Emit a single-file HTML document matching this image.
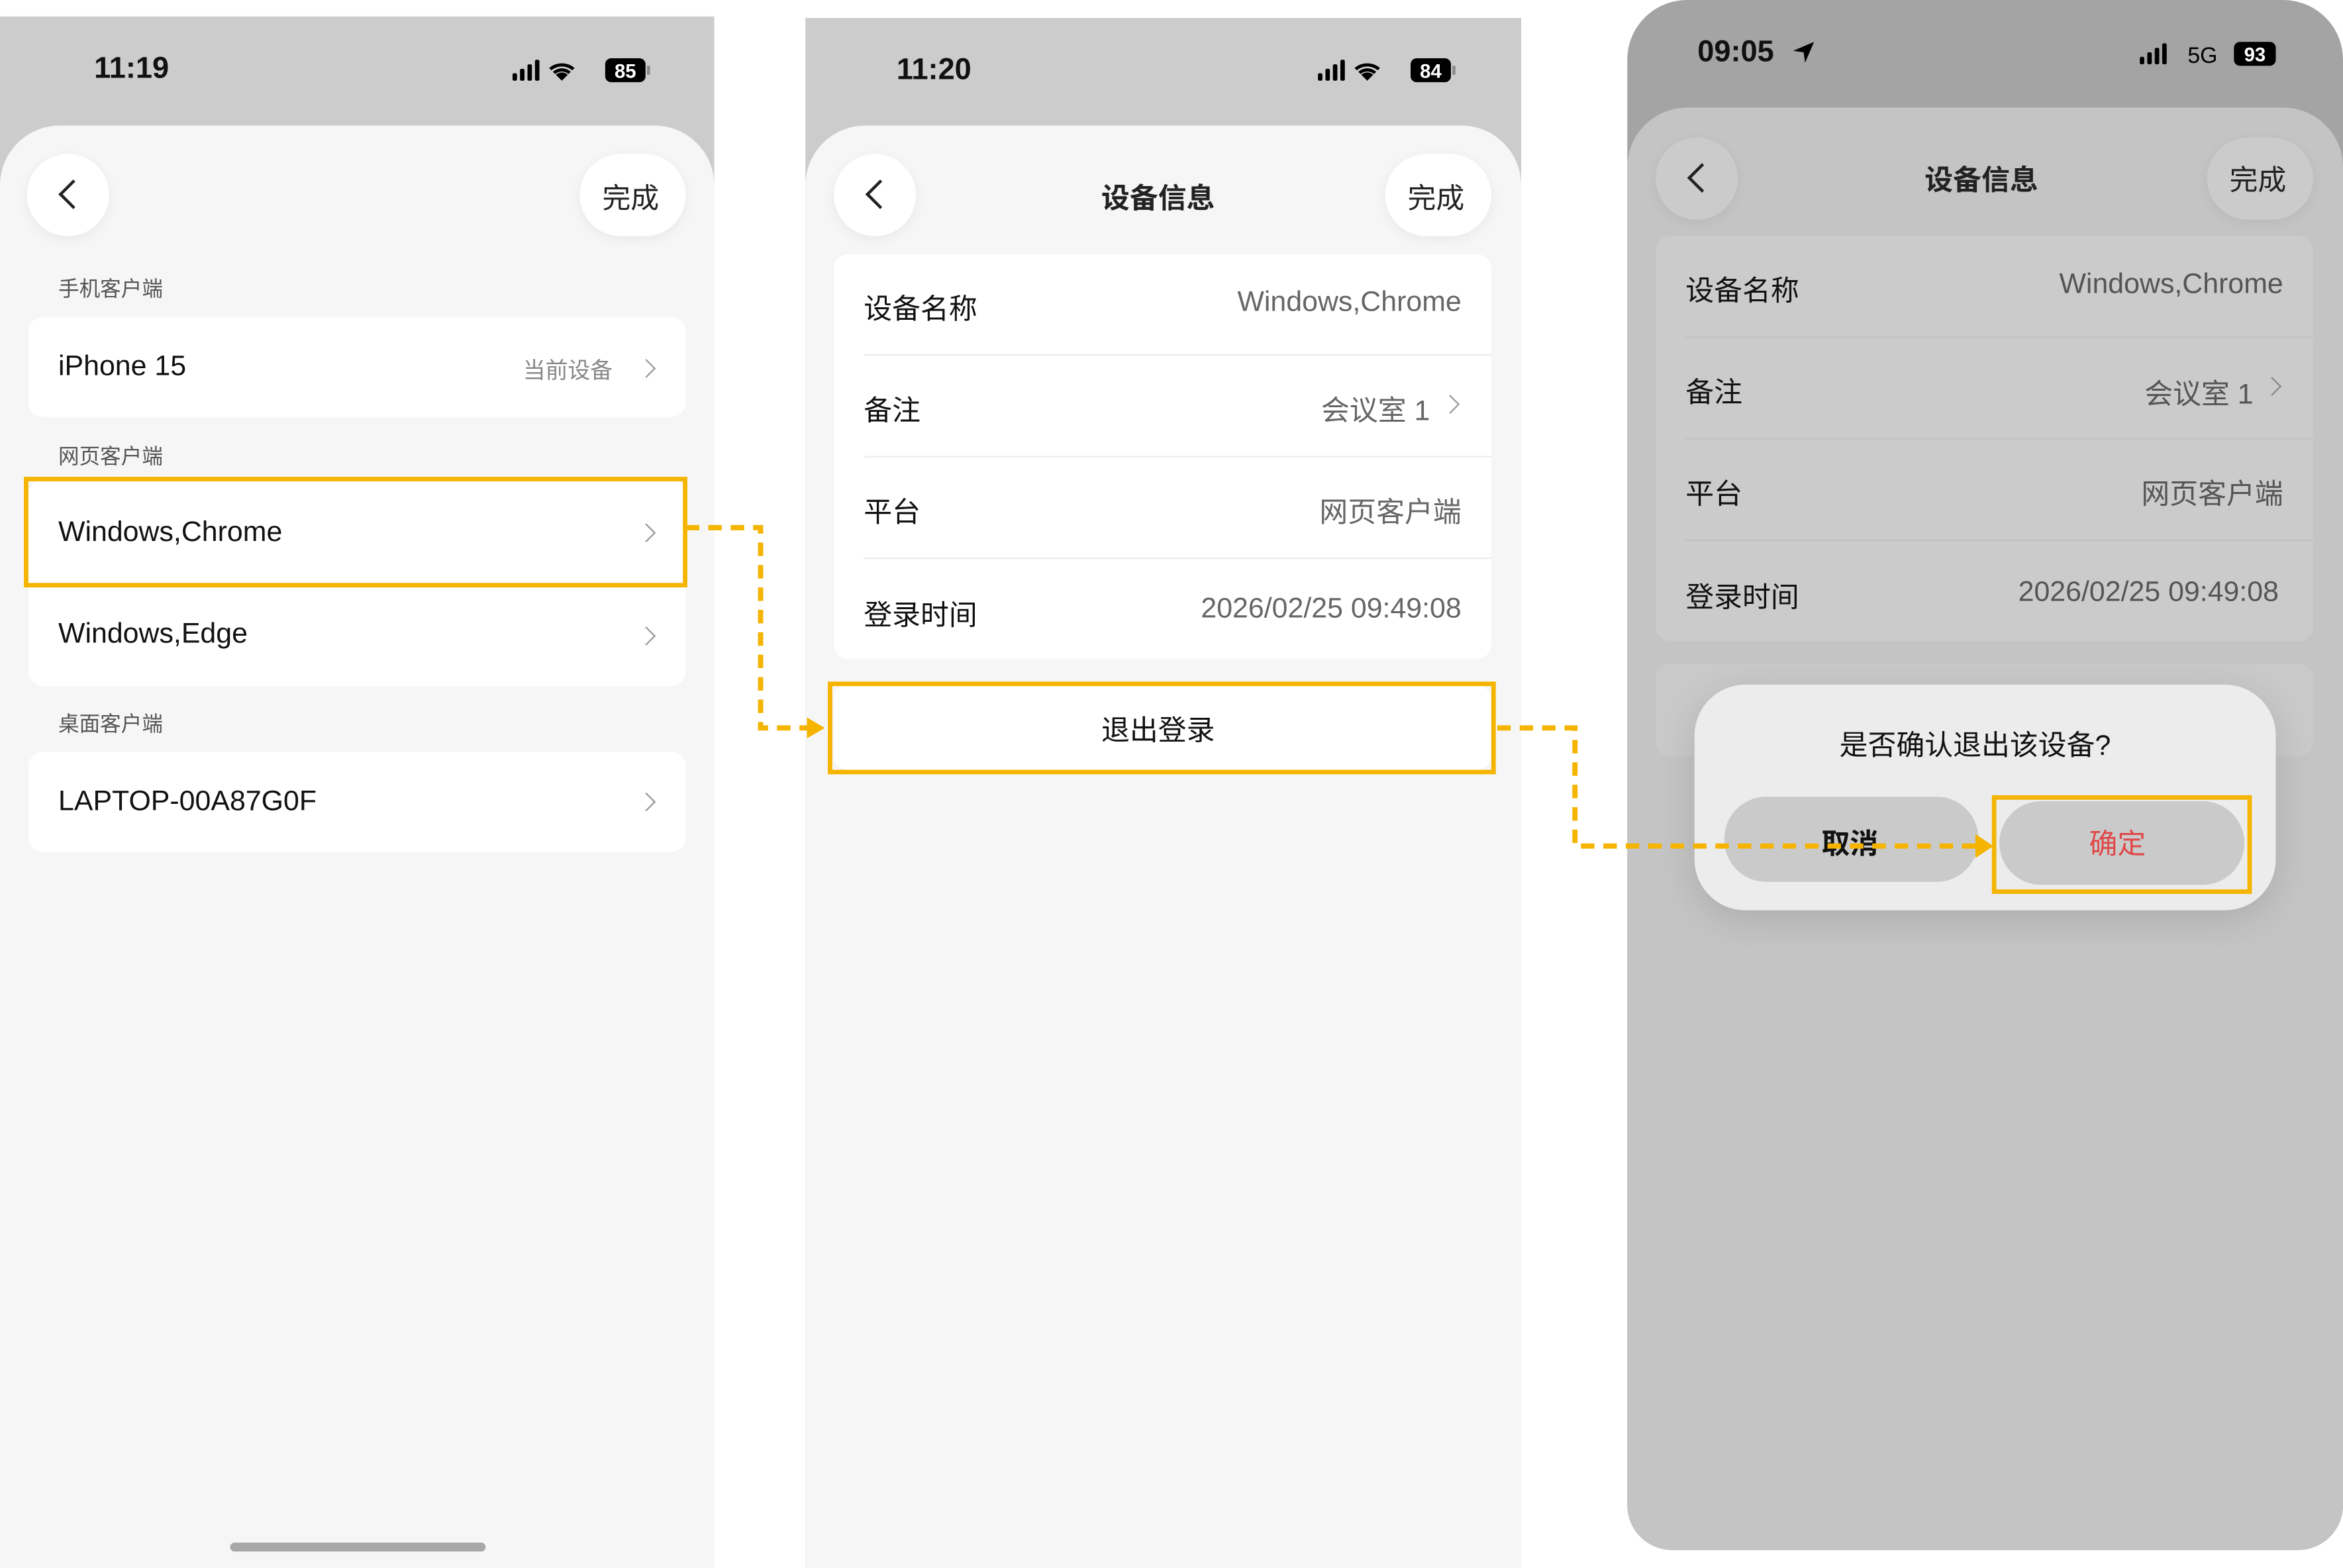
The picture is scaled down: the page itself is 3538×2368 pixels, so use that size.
<!DOCTYPE html>
<html><head><meta charset="utf-8"><style>
html,body{margin:0;padding:0;background:#fff;width:3538px;height:2368px;overflow:hidden}
#w{position:absolute;left:0;top:0;width:1568px;height:1049px;transform:scale(2.2564,2.2574);transform-origin:0 0;font-family:"Liberation Sans","Noto Sans CJK SC",sans-serif;color:#111}
.a{position:absolute}
.t{position:absolute;white-space:nowrap}
.card{position:absolute;background:#fff;border-radius:10px}
.circ{position:absolute;border-radius:50%;background:#fff;box-shadow:0 2px 8px rgba(0,0,0,.06)}
.pill{position:absolute;border-radius:30px;background:#fff;box-shadow:0 2px 8px rgba(0,0,0,.06)}
.chev{position:absolute;width:8px;height:8px;border-right:1.6px solid #999;border-top:1.6px solid #999;transform:rotate(45deg)}
.back{position:absolute;width:12px;height:12px;border-left:2px solid #222;border-bottom:2px solid #222;transform:rotate(45deg)}
.sep{position:absolute;height:1px;background:#ececec}
</style></head><body><div id="w">

<!-- Screen 1 -->
<div class="a" style="left:0;top:11px;width:478px;height:1038px;background:#cccccc"></div>
<div class="a" style="left:0;top:84px;width:478px;height:965px;background:#f6f6f6;border-radius:40px 40px 0 0"></div>
<div class="t" style="left:63px;top:35px;font-size:20px;font-weight:bold">11:19</div>
<svg class="a" style="left:342px;top:38px" width="100" height="20"><rect x="1" y="11" width="3" height="5" rx="1"/><rect x="6" y="8" width="3" height="8" rx="1"/><rect x="11" y="5" width="3" height="11" rx="1"/><rect x="16" y="2" width="3" height="14" rx="1"/><path d="M34 16 l-4-4 a6 6 0 0 1 8 0z M28 10 a9 9 0 0 1 12 0 l-1.5 1.5 a7 7 0 0 0 -9 0z M25.5 7.5 a13 13 0 0 1 17 0 l-1.5 1.5 a11 11 0 0 0 -14 0z"/><rect x="63" y="1" width="27" height="16" rx="4"/><text x="76.5" y="14" fill="#fff" font-size="13" font-weight="bold" text-anchor="middle" font-family="Liberation Sans">85</text><rect x="91" y="6" width="2" height="6" fill="#888"/></svg>
<div class="circ" style="left:18px;top:103px;width:55px;height:55px"></div>
<div class="back" style="left:42px;top:123px"></div>
<div class="pill" style="left:388px;top:103px;width:71px;height:55px"></div>
<div class="t" style="left:403px;top:118px;font-size:19px;color:#222">完成</div>
<div class="t" style="left:39px;top:183px;font-size:14px;color:#555">手机客户端</div>
<div class="card" style="left:19px;top:212px;width:440px;height:67px"></div>
<div class="t" style="left:39px;top:235px;font-size:19px">iPhone 15</div>
<div class="t" style="left:350px;top:237px;font-size:15px;color:#888">当前设备</div>
<div class="chev" style="left:428px;top:242px"></div>
<div class="t" style="left:39px;top:295px;font-size:14px;color:#555">网页客户端</div>
<div class="card" style="left:19px;top:321px;width:440px;height:138px"></div>
<div class="sep" style="left:19px;top:391px;width:440px"></div>
<div class="t" style="left:39px;top:346px;font-size:19px">Windows,Chrome</div>
<div class="chev" style="left:428px;top:352px"></div>
<div class="t" style="left:39px;top:414px;font-size:19px">Windows,Edge</div>
<div class="chev" style="left:428px;top:421px"></div>
<div class="t" style="left:39px;top:474px;font-size:14px;color:#555">桌面客户端</div>
<div class="card" style="left:19px;top:503px;width:440px;height:67px"></div>
<div class="t" style="left:39px;top:526px;font-size:19px">LAPTOP-00A87G0F</div>
<div class="chev" style="left:428px;top:532px"></div>
<div class="a" style="left:154px;top:1032px;width:171px;height:6px;border-radius:3px;background:#a8a8a8"></div>
<div class="a" style="left:16px;top:319px;width:438px;height:68px;border:3.5px solid #f5b400"></div>

<!-- Screen 2 -->
<div class="a" style="left:539px;top:12px;width:479px;height:1037px;background:#cccccc"></div>
<div class="a" style="left:539px;top:84px;width:479px;height:965px;background:#f6f6f6;border-radius:40px 40px 0 0"></div>
<div class="t" style="left:600px;top:36px;font-size:20px;font-weight:bold">11:20</div>
<svg class="a" style="left:881px;top:38px" width="100" height="20"><rect x="1" y="11" width="3" height="5" rx="1"/><rect x="6" y="8" width="3" height="8" rx="1"/><rect x="11" y="5" width="3" height="11" rx="1"/><rect x="16" y="2" width="3" height="14" rx="1"/><path d="M44 16 l-4-4 a6 6 0 0 1 8 0z M38 10 a9 9 0 0 1 12 0 l-1.5 1.5 a7 7 0 0 0 -9 0z M35.5 7.5 a13 13 0 0 1 17 0 l-1.5 1.5 a11 11 0 0 0 -14 0z" transform="translate(-10 0)"/><rect x="63" y="1" width="27" height="16" rx="4"/><text x="76.5" y="14" fill="#fff" font-size="13" font-weight="bold" text-anchor="middle" font-family="Liberation Sans">84</text><rect x="91" y="6" width="2" height="6" fill="#888"/></svg>
<div class="circ" style="left:558px;top:103px;width:55px;height:55px"></div>
<div class="back" style="left:582px;top:123px"></div>
<div class="t" style="left:737px;top:118px;font-size:19px;font-weight:bold;color:#222">设备信息</div>
<div class="pill" style="left:927px;top:103px;width:71px;height:55px"></div>
<div class="t" style="left:942px;top:118px;font-size:19px;color:#222">完成</div>
<div class="card" style="left:558px;top:170px;width:440px;height:271px"></div>
<div class="sep" style="left:578px;top:237px;width:420px"></div>
<div class="sep" style="left:578px;top:305px;width:420px"></div>
<div class="sep" style="left:578px;top:373px;width:420px"></div>
<div class="t" style="left:578px;top:192px;font-size:19px">设备名称</div>
<div class="t" style="right:590px;top:192px;font-size:19px;color:#666">Windows,Chrome</div>
<div class="t" style="left:578px;top:260px;font-size:19px">备注</div>
<div class="t" style="right:611px;top:260px;font-size:19px;color:#666">会议室 1</div>
<div class="chev" style="left:966px;top:266px"></div>
<div class="t" style="left:578px;top:328px;font-size:19px">平台</div>
<div class="t" style="right:590px;top:328px;font-size:19px;color:#666">网页客户端</div>
<div class="t" style="left:578px;top:397px;font-size:19px">登录时间</div>
<div class="t" style="right:590px;top:397px;font-size:19px;color:#666">2026/02/25 09:49:08</div>
<div class="card" style="left:558px;top:458px;width:440px;height:57px"></div>
<div class="t" style="left:737px;top:474px;font-size:19px">退出登录</div>
<div class="a" style="left:554px;top:456px;width:441px;height:56px;border:3.5px solid #f5b400"></div>

<!-- Screen 3 -->
<div class="a" style="left:1089px;top:0;width:479px;height:1037px;background:#a4a4a4;border-radius:40px 40px 30px 30px;overflow:hidden">
  <div class="a" style="left:0;top:72px;width:479px;height:965px;background:#c4c4c4;border-radius:40px 40px 0 0"></div>
</div>
<div class="t" style="left:1136px;top:24px;font-size:20px;font-weight:bold">09:05</div>
<svg class="a" style="left:1198px;top:26px" width="18" height="18"><path d="M2 8 L16 2 L10 16 L9 9z"/></svg>
<svg class="a" style="left:1431px;top:27px" width="100" height="20"><rect x="1" y="11" width="3" height="5" rx="1"/><rect x="6" y="8" width="3" height="8" rx="1"/><rect x="11" y="5" width="3" height="11" rx="1"/><rect x="16" y="2" width="3" height="14" rx="1"/><text x="33" y="15" font-size="15" font-family="Liberation Sans">5G</text><rect x="64" y="1" width="28" height="16" rx="4"/><text x="78" y="14" fill="#fff" font-size="13" font-weight="bold" text-anchor="middle" font-family="Liberation Sans">93</text></svg>
<div class="circ" style="left:1108px;top:92px;width:55px;height:55px;background:#cbcbcb"></div>
<div class="back" style="left:1132px;top:112px"></div>
<div class="t" style="left:1288px;top:106px;font-size:19px;font-weight:bold;color:#222">设备信息</div>
<div class="pill" style="left:1477px;top:92px;width:71px;height:55px;background:#cbcbcb"></div>
<div class="t" style="left:1492px;top:106px;font-size:19px;color:#222">完成</div>
<div class="card" style="left:1108px;top:158px;width:440px;height:271px;background:#cbcbcb"></div>
<div class="sep" style="left:1128px;top:225px;width:420px;background:#c0c0c0"></div>
<div class="sep" style="left:1128px;top:293px;width:420px;background:#c0c0c0"></div>
<div class="sep" style="left:1128px;top:361px;width:420px;background:#c0c0c0"></div>
<div class="t" style="left:1128px;top:180px;font-size:19px">设备名称</div>
<div class="t" style="right:40px;top:180px;font-size:19px;color:#555">Windows,Chrome</div>
<div class="t" style="left:1128px;top:248px;font-size:19px">备注</div>
<div class="t" style="right:60px;top:249px;font-size:19px;color:#555">会议室 1</div>
<div class="chev" style="left:1516px;top:254px;border-color:#888"></div>
<div class="t" style="left:1128px;top:316px;font-size:19px">平台</div>
<div class="t" style="right:40px;top:316px;font-size:19px;color:#555">网页客户端</div>
<div class="t" style="left:1128px;top:385px;font-size:19px">登录时间</div>
<div class="t" style="right:43px;top:386px;font-size:19px;color:#555">2026/02/25 09:49:08</div>
<div class="card" style="left:1108px;top:444px;width:440px;height:62px;background:#c9c9c9"></div>
<div class="a" style="left:1134px;top:458px;width:389px;height:151px;border-radius:34px;background:#ececec;box-shadow:0 6px 24px rgba(0,0,0,.12)"></div>
<div class="t" style="left:1231px;top:484px;font-size:19px">是否确认退出该设备?</div>
<div class="a" style="left:1154px;top:533px;width:170px;height:57px;border-radius:28px;background:#cacaca"></div>
<div class="t" style="left:1219px;top:550px;font-size:19px;font-weight:bold">取消</div>
<div class="a" style="left:1338px;top:536px;width:164px;height:56px;border-radius:28px;background:#cacaca"></div>
<div class="t" style="left:1398px;top:550px;font-size:19px;color:#e04848">确定</div>
<div class="a" style="left:1333px;top:532px;width:168px;height:60px;border:3.5px solid #f5b400"></div>

<!-- connectors -->
<svg class="a" style="left:0;top:0" width="1568" height="1049">
<g fill="none" stroke="#f5b400" stroke-width="3.5" stroke-dasharray="9 6">
<path d="M459 353 H509 V487 H542"/>
<path d="M1002 487 H1054 V566 H1322"/>
</g>
<g fill="#f5b400"><path d="M552 487 L540 480 V494z"/><path d="M1334 566 L1322 558 V574z"/></g>
</svg>
</div></body></html>
